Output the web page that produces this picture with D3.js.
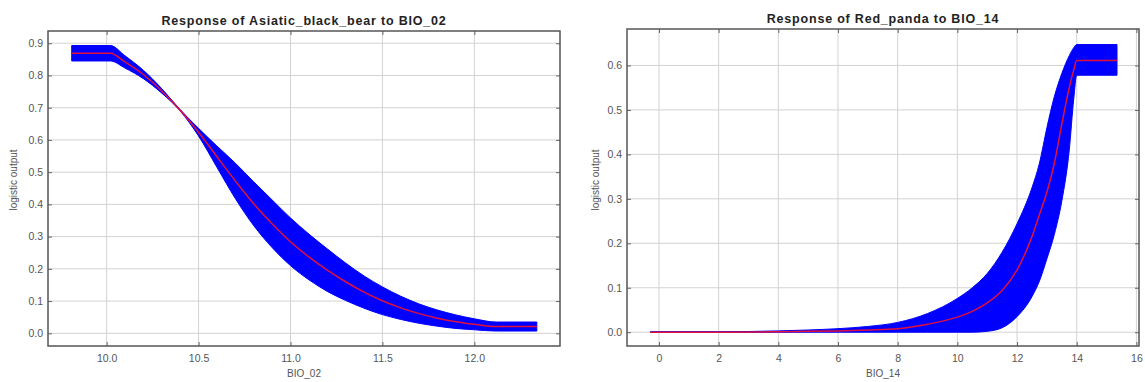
<!DOCTYPE html>
<html>
<head>
<meta charset="utf-8">
<script src="https://cdn.jsdelivr.net/npm/d3@7"></script>
<style>
  body { margin: 0; background: #fff; }
  text { font-family: "Liberation Sans", Arial, sans-serif; }
</style>
</head>
<body>
<svg id="chart" width="1145" height="382"></svg>
<script>
// Asiatic black bear: response to BIO_02 (mean with +/- one SD band)
const bearX    = [9.81, 10.02, 10.10, 10.20, 10.30, 10.40, 10.50, 10.60, 10.70, 10.80, 10.90, 11.00, 11.10, 11.20, 11.30, 11.40, 11.50, 11.60, 11.70, 11.80, 11.90, 12.00, 12.12, 12.34];
const bearMean = [0.869, 0.869, 0.842, 0.803, 0.752, 0.692, 0.624, 0.548, 0.473, 0.402, 0.340, 0.284, 0.237, 0.196, 0.160, 0.128, 0.101, 0.079, 0.061, 0.047, 0.036, 0.028, 0.021, 0.021];
const bearLow  = [0.845, 0.845, 0.823, 0.790, 0.745, 0.690, 0.612, 0.515, 0.418, 0.334, 0.266, 0.210, 0.166, 0.130, 0.102, 0.078, 0.058, 0.043, 0.031, 0.022, 0.015, 0.011, 0.007, 0.007];
const bearHigh = [0.893, 0.893, 0.861, 0.816, 0.759, 0.694, 0.636, 0.581, 0.528, 0.470, 0.414, 0.358, 0.308, 0.262, 0.218, 0.178, 0.144, 0.115, 0.091, 0.072, 0.057, 0.045, 0.035, 0.035];
const bearXTicks = [10.0, 10.5, 11.0, 11.5, 12.0];
const bearYTicks = [0.0, 0.1, 0.2, 0.3, 0.4, 0.5, 0.6, 0.7, 0.8, 0.9];

// Red panda: response to BIO_14
const pandaX    = [-0.29, 2, 4, 5, 6, 7, 8, 9, 10, 10.5, 11, 11.5, 12, 12.5, 12.75, 13, 13.25, 13.5, 13.75, 13.9, 14.0, 15.35];
const pandaMean = [0.000, 0.000, 0.001, 0.002, 0.003, 0.005, 0.008, 0.018, 0.034, 0.047, 0.066, 0.094, 0.140, 0.215, 0.265, 0.315, 0.380, 0.468, 0.550, 0.590, 0.611, 0.611];
const pandaLow  = [0, 0, 0, 0, 0, 0, 0, 0, 0, 0, 0.002, 0.010, 0.035, 0.080, 0.115, 0.165, 0.220, 0.295, 0.410, 0.525, 0.578, 0.578];
const pandaHigh = [0.001, 0.001, 0.003, 0.005, 0.008, 0.013, 0.022, 0.042, 0.076, 0.100, 0.132, 0.180, 0.244, 0.325, 0.380, 0.460, 0.530, 0.582, 0.622, 0.640, 0.647, 0.647];
const pandaXTicks = [0, 2, 4, 6, 8, 10, 12, 14, 16];
const pandaYTicks = [0.0, 0.1, 0.2, 0.3, 0.4, 0.5, 0.6];

const svg = d3.select("#chart");

function drawPanel(p) {
  const x = d3.scaleLinear().domain(p.xDomain).range([p.left, p.right]);
  const y = d3.scaleLinear().domain(p.yDomain).range([p.bottom, p.top]);
  const g = svg.append("g");

  // grid
  g.append("g").selectAll("line").data(p.xTicks).join("line")
    .attr("x1", d => x(d)).attr("x2", d => x(d))
    .attr("y1", p.top).attr("y2", p.bottom)
    .attr("stroke", "#d3d3d3").attr("stroke-width", 1);
  g.append("g").selectAll("line").data(p.yTicks).join("line")
    .attr("y1", d => y(d)).attr("y2", d => y(d))
    .attr("x1", p.left).attr("x2", p.right)
    .attr("stroke", "#d3d3d3").attr("stroke-width", 1);

  // band and mean curve
  const rows = p.xs.map((v, i) => ({ x: v, m: p.mean[i], lo: p.low[i], hi: p.high[i] }));
  const area = d3.area().x(d => x(d.x)).y0(d => y(d.lo)).y1(d => y(d.hi)).curve(d3.curveMonotoneX);
  const line = d3.line().x(d => x(d.x)).y(d => y(d.m)).curve(d3.curveMonotoneX);
  g.append("path").datum(rows).attr("d", area).attr("fill", "#0000ff").attr("stroke", "#0000ff").attr("stroke-width", 1);
  g.append("path").datum(rows).attr("d", line).attr("fill", "none")
    .attr("stroke", "#e0103a").attr("stroke-width", 1.5);

  // axes with inward ticks on all four sides
  const axB = d3.axisBottom(x).tickValues(p.xTicks).tickSize(-4).tickPadding(9).tickFormat(p.xFormat);
  const axT = d3.axisTop(x).tickValues(p.xTicks).tickSize(-4).tickFormat("");
  const axL = d3.axisLeft(y).tickValues(p.yTicks).tickSize(-4).tickPadding(5).tickFormat(d3.format(".1f"));
  const axR = d3.axisRight(y).tickValues(p.yTicks).tickSize(-4).tickFormat("");
  [[axB, `translate(0,${p.bottom})`], [axT, `translate(0,${p.top})`],
   [axL, `translate(${p.left},0)`], [axR, `translate(${p.right},0)`]].forEach(([ax, tr]) => {
    const a = g.append("g").attr("transform", tr).call(ax);
    a.select(".domain").remove();
    a.selectAll("line").attr("stroke", "#666");
    a.selectAll("text").attr("fill", "#555").style("font-size", "10.5px")
      .style("font-family", '"Liberation Sans", Arial, sans-serif');
  });

  // frame
  g.append("rect").attr("x", p.left).attr("y", p.top)
    .attr("width", p.right - p.left).attr("height", p.bottom - p.top)
    .attr("fill", "none").attr("stroke", "#555").attr("stroke-width", 1.5);

  // titles
  g.append("text").attr("x", (p.left + p.right) / 2).attr("y", p.top - 6)
    .attr("text-anchor", "middle").attr("font-weight", "bold")
    .attr("fill", "#222").style("font-size", "12.5px").style("letter-spacing", "0.8px").text(p.title);
  g.append("text").attr("x", (p.left + p.right) / 2).attr("y", 377)
    .attr("text-anchor", "middle").attr("fill", "#555").style("font-size", "10px").text(p.xLabel);
  g.append("text").attr("transform", `translate(${p.left - p.yLabelGap},180) rotate(-90)`)
    .attr("text-anchor", "middle").attr("fill", "#555").style("font-size", "10px").text("logistic output");
}

drawPanel({
  left: 48, right: 560, top: 31, bottom: 346,
  xDomain: [9.681, 12.466], yDomain: [-0.0394, 0.938],
  xs: bearX, mean: bearMean, low: bearLow, high: bearHigh,
  xTicks: bearXTicks, yTicks: bearYTicks, xFormat: d3.format(".1f"),
  title: "Response of Asiatic_black_bear to BIO_02", xLabel: "BIO_02", yLabelGap: 31
});

drawPanel({
  left: 627, right: 1139, top: 29, bottom: 346,
  xDomain: [-1.071, 16.087], yDomain: [-0.031, 0.682],
  xs: pandaX, mean: pandaMean, low: pandaLow, high: pandaHigh,
  xTicks: pandaXTicks, yTicks: pandaYTicks, xFormat: d3.format("d"),
  title: "Response of Red_panda to BIO_14", xLabel: "BIO_14", yLabelGap: 28
});
</script>
</body>
</html>
